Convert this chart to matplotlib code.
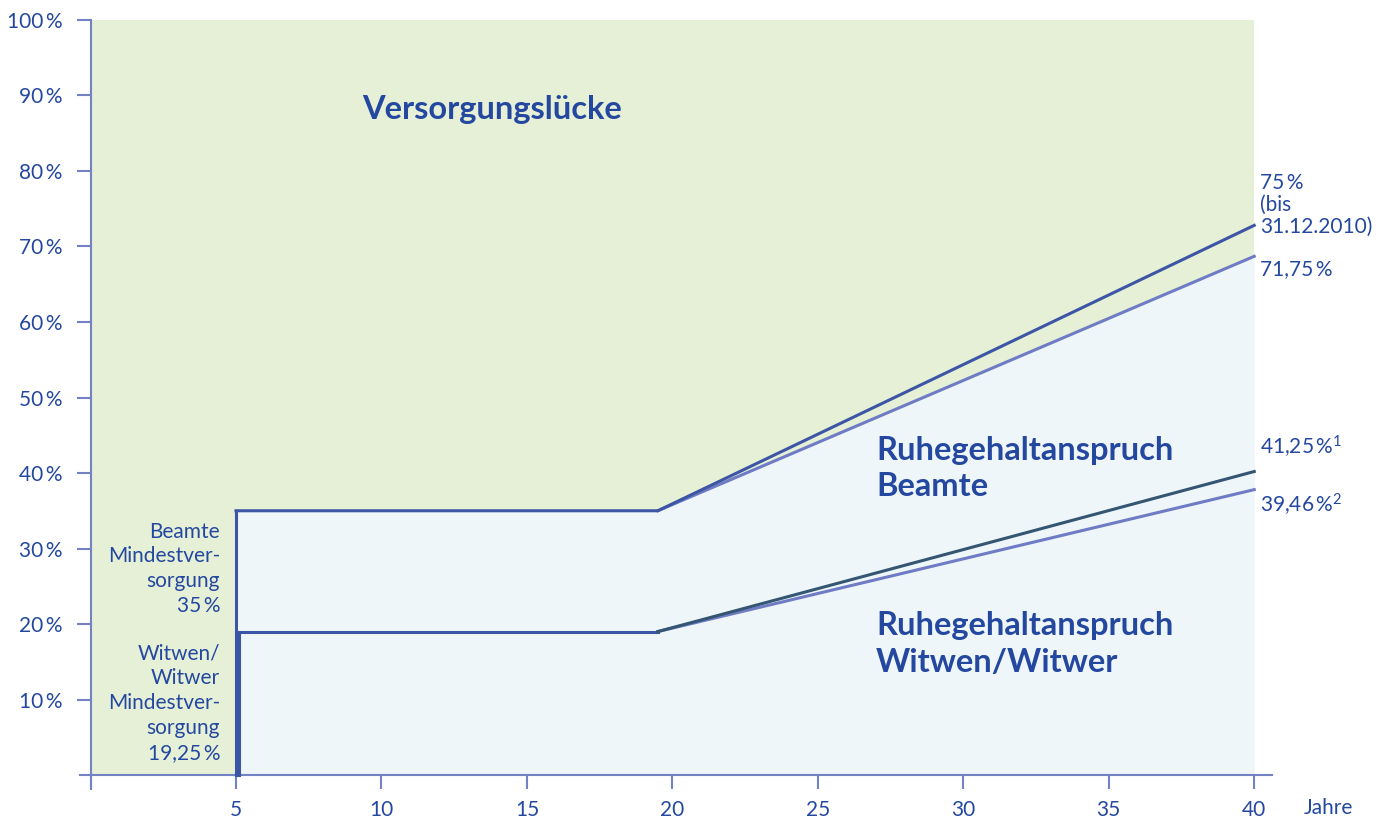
import matplotlib
matplotlib.use('Agg')
import matplotlib.pyplot as plt

plt.rcParams['font.family'] = ['Lato', 'DejaVu Sans']
plt.rcParams['mathtext.fontset'] = 'custom'
plt.rcParams['mathtext.rm'] = 'Lato'
plt.rcParams['mathtext.default'] = 'rm'

# Daten
jahre = [5, 19.5, 40]
beamte_alt = [35, 35, 72.8]    # 75 % (bis 31.12.2010)
beamte_neu = [35, 35, 68.7]    # 71,75 %
witwen_alt = [19, 19, 40.2]    # 41,25 %
witwen_neu = [19, 19, 37.8]    # 39,46 %
xticks = [0, 5, 10, 15, 20, 25, 30, 35, 40]
yticks = [10, 20, 30, 40, 50, 60, 70, 80, 90, 100]

txt = '#2448a0'
spine = '#7382c4'
blau = '#3d55a5'
hell = '#6f7bc4'
dunkel = '#355672'
gruen = '#e5f0d7'
eisblau = '#eef6f9'

fig = plt.figure(figsize=(13.76, 8.19), dpi=100)
ax = fig.add_axes([0.0584, 0.0371, 0.8658, 0.9385])
ax.set_xlim(-0.35, 40.6)
ax.set_ylim(-1.8, 100)

# Hintergrund
ax.fill_between([0, 40], 0, 100, color=gruen, lw=0, zorder=0)
ax.fill_between(jahre, 0, beamte_neu, color=eisblau, lw=0, zorder=1)

# Linien
lw = 2.2
ax.plot(jahre, beamte_alt, color=blau, lw=lw, zorder=4)
ax.plot(jahre[1:], beamte_neu[1:], color=hell, lw=lw, zorder=3)
ax.plot([5.1, jahre[1]], witwen_alt[:2], color=blau, lw=lw, zorder=4)
ax.plot(jahre[1:], witwen_alt[1:], color=dunkel, lw=lw, zorder=4)
ax.plot(jahre[1:], witwen_neu[1:], color=hell, lw=lw, zorder=3)
ax.plot([5, 5], [0, beamte_alt[0]], color=blau, lw=lw, zorder=4)
ax.plot([5.1, 5.1], [0, witwen_alt[0]], color=blau, lw=lw, zorder=4)

# Achsen
for s in ['top', 'right']:
    ax.spines[s].set_visible(False)
ax.spines['left'].set_position(('data', 0))
ax.spines['bottom'].set_position(('data', 0))
ax.spines['left'].set_bounds(-1.8, 100)
ax.spines['bottom'].set_bounds(-0.35, 40.6)
for s in ['left', 'bottom']:
    ax.spines[s].set_color(spine)
    ax.spines[s].set_linewidth(1.5)
ax.set_xticks(xticks)
ax.set_xticklabels(['' if x == 0 else str(x) for x in xticks])
ax.set_yticks(yticks)
ax.set_yticklabels([f'{y}\u2009%' for y in yticks])
ax.tick_params(colors=spine, labelcolor=txt, labelsize=15, length=10, width=1.5,
               direction='out')
ax.tick_params(axis='x', pad=8)
ax.tick_params(axis='y', pad=10)
ax.text(41.7, -4.4, 'Jahre', color=txt, fontsize=15, ha='left', va='center')

# Beschriftungen
ax.text(13.8, 88.2, 'Versorgungslücke', color=txt, fontsize=23.5, fontweight='bold',
        ha='center', va='center')
ax.text(27.0, 40.6, 'Ruhegehaltanspruch\nBeamte', color=txt, fontsize=23.5,
        fontweight='bold', ha='left', va='center', linespacing=1.33)
ax.text(27.0, 17.4, 'Ruhegehaltanspruch\nWitwen/Witwer', color=txt, fontsize=23.5,
        fontweight='bold', ha='left', va='center', linespacing=1.33)

ax.text(4.45, 27.3, 'Beamte\nMindestver-\nsorgung\n35\u2009%', color=txt,
        fontsize=15, ha='right', va='center', linespacing=1.3)
ax.text(4.45, 9.5, 'Witwen/\nWitwer\nMindestver-\nsorgung\n19,25\u2009%', color=txt,
        fontsize=15, ha='right', va='center', linespacing=1.3)

ax.text(40.2, 75.5, '75\u2009%\n(bis\n31.12.2010)', color=txt, fontsize=15,
        ha='left', va='center', linespacing=1.1)
ax.text(40.2, 67.0, '71,75\u2009%', color=txt, fontsize=15, ha='left', va='center')
ax.text(40.2, 43.4, '41,25\u2009%$^{1}$', color=txt, fontsize=15, ha='left', va='center')
ax.text(40.2, 35.8, '39,46\u2009%$^{2}$', color=txt, fontsize=15, ha='left', va='center')

fig.savefig('out.png', dpi=100)
